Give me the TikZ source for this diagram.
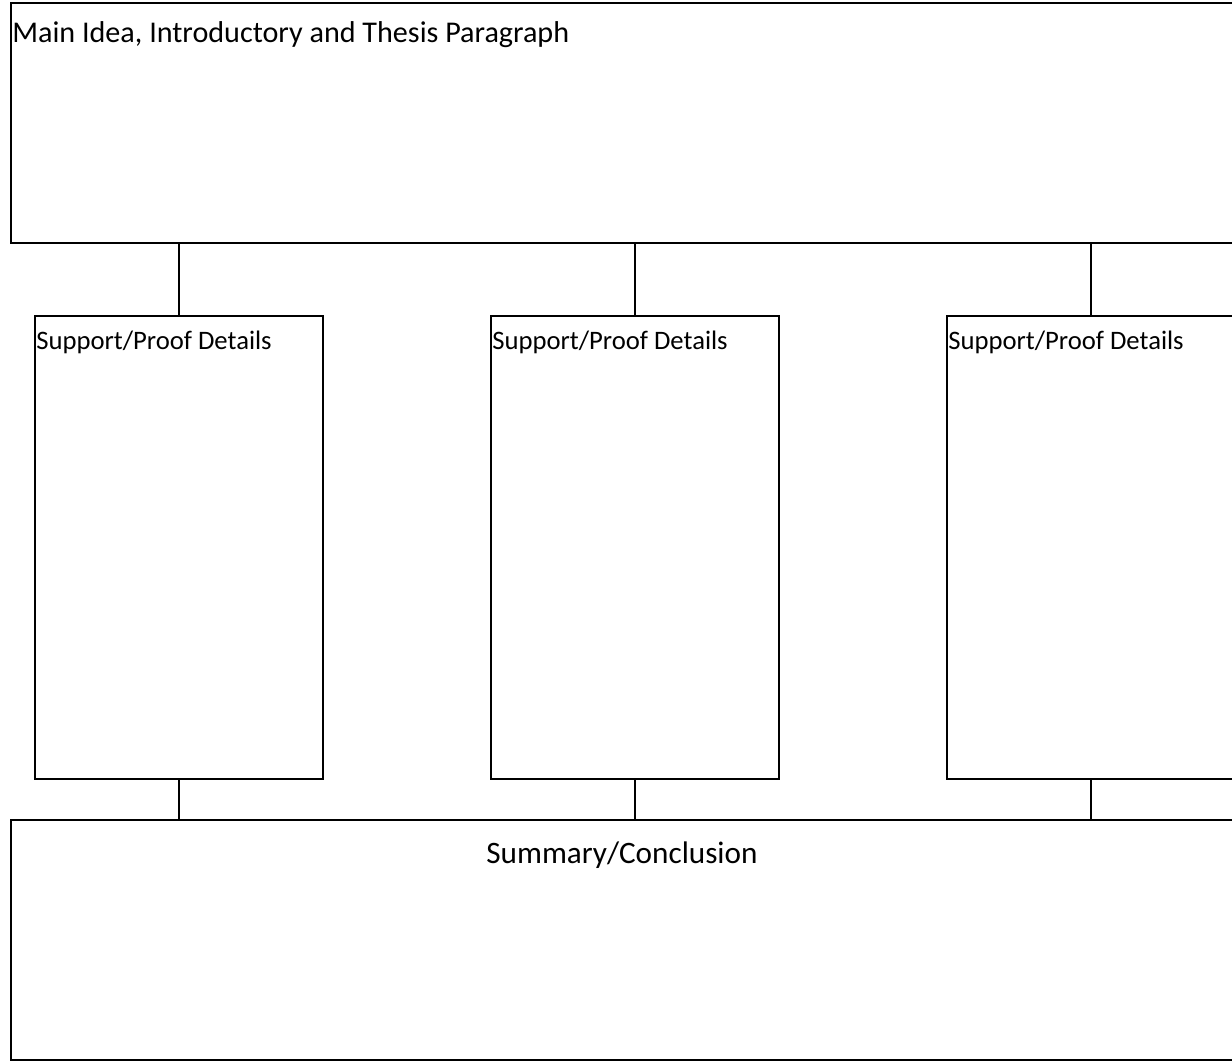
\documentclass[tikz,border=0pt]{standalone}
\usepackage{fontspec}
\setmainfont{Carlito}
\usetikzlibrary{positioning, calc}
\tikzset{
  chart/.style = {
    font=\fontsize{22.6}{27}\selectfont,
    line width=1.5pt,
  },
  bigbox/.style = {
    rectangle, draw=black, fill=white, minimum width=925.5pt, minimum height=180pt,
    inner sep=0pt,
  },
  detbox/.style = {
    rectangle, draw=black, fill=white, minimum width=216pt, minimum height=347.25pt,
    inner sep=0pt,
  },
  boxtitle/.style = {anchor=north west, inner sep=1pt},
  dettitle/.style = {boxtitle, font=\fontsize{20}{24}\selectfont},
  link/.style = {draw=black, line width=1.5pt},
}
\begin{document}
\begin{tikzpicture}[chart, x=0.75pt, y=-0.75pt]

\useasboundingbox (0,0) rectangle (1232,1062);
\clip (0,0) rectangle (1232,1062);

\node[bigbox] (main) at (628,123)   {};
\node[detbox] (det1) at (179,547.5) {};
\node[detbox] (det2) at (635,547.5) {};
\node[detbox] (det3) at (1091,547.5) {};
\node[bigbox] (sum)  at (628,940)   {};

\node[boxtitle] (maint) at ($(main.north west)+(0,17)$) {Main Idea, Introductory and Thesis Paragraph};
\node[dettitle] (det1t) at ($(det1.north west)+(0,14)$) {Support/Proof Details};
\node[dettitle] (det2t) at ($(det2.north west)+(0,14)$) {Support/Proof Details};
\node[dettitle] (det3t) at ($(det3.north west)+(0,14)$) {Support/Proof Details};
\node[anchor=north, inner sep=1pt, font=\fontsize{23.4}{28}\selectfont] (sumt)
  at ($(sum.north)+(-6,20)$) {Summary/Conclusion};

\foreach \d in {det1, det2, det3} {
  \draw[link] (\d.north |- main.south) -- (\d.north);
  \draw[link] (\d.south) -- (\d.south |- sum.north);
}

\end{tikzpicture}
\end{document}
